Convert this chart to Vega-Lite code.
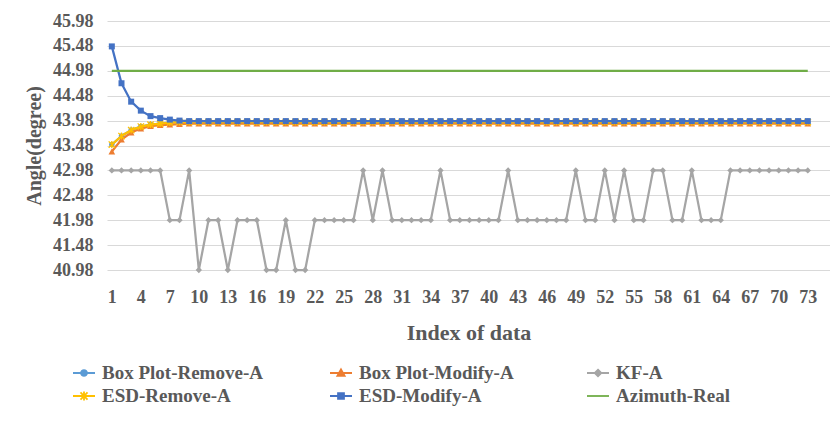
{
"$schema": "https://vega.github.io/schema/vega-lite/v6.json",
"width": 723, "height": 249, "autosize": "none",
"padding": {"left": 107, "top": 21, "right": 0, "bottom": 158},
"background": "white",
"config": {"font": "Liberation Serif", "view": {"stroke": null}},
"data": {"values": [
{"i":1,"s":"Box Plot-Remove-A","v":43.50},{"i":2,"s":"Box Plot-Remove-A","v":43.67},{"i":3,"s":"Box Plot-Remove-A","v":43.79},{"i":4,"s":"Box Plot-Remove-A","v":43.86},{"i":5,"s":"Box Plot-Remove-A","v":43.90},{"i":6,"s":"Box Plot-Remove-A","v":43.92},{"i":7,"s":"Box Plot-Remove-A","v":43.94},{"i":8,"s":"Box Plot-Remove-A","v":43.95},{"i":9,"s":"Box Plot-Remove-A","v":43.95},{"i":10,"s":"Box Plot-Remove-A","v":43.95},
{"i":11,"s":"Box Plot-Remove-A","v":43.95},{"i":12,"s":"Box Plot-Remove-A","v":43.95},{"i":13,"s":"Box Plot-Remove-A","v":43.95},{"i":14,"s":"Box Plot-Remove-A","v":43.95},{"i":15,"s":"Box Plot-Remove-A","v":43.95},{"i":16,"s":"Box Plot-Remove-A","v":43.95},{"i":17,"s":"Box Plot-Remove-A","v":43.95},{"i":18,"s":"Box Plot-Remove-A","v":43.95},{"i":19,"s":"Box Plot-Remove-A","v":43.95},{"i":20,"s":"Box Plot-Remove-A","v":43.95},
{"i":21,"s":"Box Plot-Remove-A","v":43.95},{"i":22,"s":"Box Plot-Remove-A","v":43.95},{"i":23,"s":"Box Plot-Remove-A","v":43.95},{"i":24,"s":"Box Plot-Remove-A","v":43.95},{"i":25,"s":"Box Plot-Remove-A","v":43.95},{"i":26,"s":"Box Plot-Remove-A","v":43.95},{"i":27,"s":"Box Plot-Remove-A","v":43.95},{"i":28,"s":"Box Plot-Remove-A","v":43.95},{"i":29,"s":"Box Plot-Remove-A","v":43.95},{"i":30,"s":"Box Plot-Remove-A","v":43.95},
{"i":31,"s":"Box Plot-Remove-A","v":43.95},{"i":32,"s":"Box Plot-Remove-A","v":43.95},{"i":33,"s":"Box Plot-Remove-A","v":43.95},{"i":34,"s":"Box Plot-Remove-A","v":43.95},{"i":35,"s":"Box Plot-Remove-A","v":43.95},{"i":36,"s":"Box Plot-Remove-A","v":43.95},{"i":37,"s":"Box Plot-Remove-A","v":43.95},{"i":38,"s":"Box Plot-Remove-A","v":43.95},{"i":39,"s":"Box Plot-Remove-A","v":43.95},{"i":40,"s":"Box Plot-Remove-A","v":43.95},
{"i":41,"s":"Box Plot-Remove-A","v":43.95},{"i":42,"s":"Box Plot-Remove-A","v":43.95},{"i":43,"s":"Box Plot-Remove-A","v":43.95},{"i":44,"s":"Box Plot-Remove-A","v":43.95},{"i":45,"s":"Box Plot-Remove-A","v":43.95},{"i":46,"s":"Box Plot-Remove-A","v":43.95},{"i":47,"s":"Box Plot-Remove-A","v":43.95},{"i":48,"s":"Box Plot-Remove-A","v":43.95},{"i":49,"s":"Box Plot-Remove-A","v":43.95},{"i":50,"s":"Box Plot-Remove-A","v":43.95},
{"i":51,"s":"Box Plot-Remove-A","v":43.95},{"i":52,"s":"Box Plot-Remove-A","v":43.95},{"i":53,"s":"Box Plot-Remove-A","v":43.95},{"i":54,"s":"Box Plot-Remove-A","v":43.95},{"i":55,"s":"Box Plot-Remove-A","v":43.95},{"i":56,"s":"Box Plot-Remove-A","v":43.95},{"i":57,"s":"Box Plot-Remove-A","v":43.95},{"i":58,"s":"Box Plot-Remove-A","v":43.95},{"i":59,"s":"Box Plot-Remove-A","v":43.95},{"i":60,"s":"Box Plot-Remove-A","v":43.95},
{"i":61,"s":"Box Plot-Remove-A","v":43.95},{"i":62,"s":"Box Plot-Remove-A","v":43.95},{"i":63,"s":"Box Plot-Remove-A","v":43.95},{"i":64,"s":"Box Plot-Remove-A","v":43.95},{"i":65,"s":"Box Plot-Remove-A","v":43.95},{"i":66,"s":"Box Plot-Remove-A","v":43.95},{"i":67,"s":"Box Plot-Remove-A","v":43.95},{"i":68,"s":"Box Plot-Remove-A","v":43.95},{"i":69,"s":"Box Plot-Remove-A","v":43.95},{"i":70,"s":"Box Plot-Remove-A","v":43.95},
{"i":71,"s":"Box Plot-Remove-A","v":43.95},{"i":72,"s":"Box Plot-Remove-A","v":43.95},{"i":73,"s":"Box Plot-Remove-A","v":43.95},
{"i":1,"s":"Box Plot-Modify-A","v":43.36},{"i":2,"s":"Box Plot-Modify-A","v":43.60},{"i":3,"s":"Box Plot-Modify-A","v":43.74},{"i":4,"s":"Box Plot-Modify-A","v":43.82},{"i":5,"s":"Box Plot-Modify-A","v":43.87},{"i":6,"s":"Box Plot-Modify-A","v":43.89},{"i":7,"s":"Box Plot-Modify-A","v":43.90},{"i":8,"s":"Box Plot-Modify-A","v":43.91},{"i":9,"s":"Box Plot-Modify-A","v":43.92},{"i":10,"s":"Box Plot-Modify-A","v":43.92},
{"i":11,"s":"Box Plot-Modify-A","v":43.92},{"i":12,"s":"Box Plot-Modify-A","v":43.92},{"i":13,"s":"Box Plot-Modify-A","v":43.92},{"i":14,"s":"Box Plot-Modify-A","v":43.92},{"i":15,"s":"Box Plot-Modify-A","v":43.92},{"i":16,"s":"Box Plot-Modify-A","v":43.92},{"i":17,"s":"Box Plot-Modify-A","v":43.92},{"i":18,"s":"Box Plot-Modify-A","v":43.92},{"i":19,"s":"Box Plot-Modify-A","v":43.92},{"i":20,"s":"Box Plot-Modify-A","v":43.92},
{"i":21,"s":"Box Plot-Modify-A","v":43.92},{"i":22,"s":"Box Plot-Modify-A","v":43.92},{"i":23,"s":"Box Plot-Modify-A","v":43.92},{"i":24,"s":"Box Plot-Modify-A","v":43.92},{"i":25,"s":"Box Plot-Modify-A","v":43.92},{"i":26,"s":"Box Plot-Modify-A","v":43.92},{"i":27,"s":"Box Plot-Modify-A","v":43.92},{"i":28,"s":"Box Plot-Modify-A","v":43.92},{"i":29,"s":"Box Plot-Modify-A","v":43.92},{"i":30,"s":"Box Plot-Modify-A","v":43.92},
{"i":31,"s":"Box Plot-Modify-A","v":43.92},{"i":32,"s":"Box Plot-Modify-A","v":43.92},{"i":33,"s":"Box Plot-Modify-A","v":43.92},{"i":34,"s":"Box Plot-Modify-A","v":43.92},{"i":35,"s":"Box Plot-Modify-A","v":43.92},{"i":36,"s":"Box Plot-Modify-A","v":43.92},{"i":37,"s":"Box Plot-Modify-A","v":43.92},{"i":38,"s":"Box Plot-Modify-A","v":43.92},{"i":39,"s":"Box Plot-Modify-A","v":43.92},{"i":40,"s":"Box Plot-Modify-A","v":43.92},
{"i":41,"s":"Box Plot-Modify-A","v":43.92},{"i":42,"s":"Box Plot-Modify-A","v":43.92},{"i":43,"s":"Box Plot-Modify-A","v":43.92},{"i":44,"s":"Box Plot-Modify-A","v":43.92},{"i":45,"s":"Box Plot-Modify-A","v":43.92},{"i":46,"s":"Box Plot-Modify-A","v":43.92},{"i":47,"s":"Box Plot-Modify-A","v":43.92},{"i":48,"s":"Box Plot-Modify-A","v":43.92},{"i":49,"s":"Box Plot-Modify-A","v":43.92},{"i":50,"s":"Box Plot-Modify-A","v":43.92},
{"i":51,"s":"Box Plot-Modify-A","v":43.92},{"i":52,"s":"Box Plot-Modify-A","v":43.92},{"i":53,"s":"Box Plot-Modify-A","v":43.92},{"i":54,"s":"Box Plot-Modify-A","v":43.92},{"i":55,"s":"Box Plot-Modify-A","v":43.92},{"i":56,"s":"Box Plot-Modify-A","v":43.92},{"i":57,"s":"Box Plot-Modify-A","v":43.92},{"i":58,"s":"Box Plot-Modify-A","v":43.92},{"i":59,"s":"Box Plot-Modify-A","v":43.92},{"i":60,"s":"Box Plot-Modify-A","v":43.92},
{"i":61,"s":"Box Plot-Modify-A","v":43.92},{"i":62,"s":"Box Plot-Modify-A","v":43.92},{"i":63,"s":"Box Plot-Modify-A","v":43.92},{"i":64,"s":"Box Plot-Modify-A","v":43.92},{"i":65,"s":"Box Plot-Modify-A","v":43.92},{"i":66,"s":"Box Plot-Modify-A","v":43.92},{"i":67,"s":"Box Plot-Modify-A","v":43.92},{"i":68,"s":"Box Plot-Modify-A","v":43.92},{"i":69,"s":"Box Plot-Modify-A","v":43.92},{"i":70,"s":"Box Plot-Modify-A","v":43.92},
{"i":71,"s":"Box Plot-Modify-A","v":43.92},{"i":72,"s":"Box Plot-Modify-A","v":43.92},{"i":73,"s":"Box Plot-Modify-A","v":43.92},
{"i":1,"s":"KF-A","v":42.98},{"i":2,"s":"KF-A","v":42.98},{"i":3,"s":"KF-A","v":42.98},{"i":4,"s":"KF-A","v":42.98},{"i":5,"s":"KF-A","v":42.98},{"i":6,"s":"KF-A","v":42.98},{"i":7,"s":"KF-A","v":41.98},{"i":8,"s":"KF-A","v":41.98},{"i":9,"s":"KF-A","v":42.98},{"i":10,"s":"KF-A","v":40.98},
{"i":11,"s":"KF-A","v":41.98},{"i":12,"s":"KF-A","v":41.98},{"i":13,"s":"KF-A","v":40.98},{"i":14,"s":"KF-A","v":41.98},{"i":15,"s":"KF-A","v":41.98},{"i":16,"s":"KF-A","v":41.98},{"i":17,"s":"KF-A","v":40.98},{"i":18,"s":"KF-A","v":40.98},{"i":19,"s":"KF-A","v":41.98},{"i":20,"s":"KF-A","v":40.98},
{"i":21,"s":"KF-A","v":40.98},{"i":22,"s":"KF-A","v":41.98},{"i":23,"s":"KF-A","v":41.98},{"i":24,"s":"KF-A","v":41.98},{"i":25,"s":"KF-A","v":41.98},{"i":26,"s":"KF-A","v":41.98},{"i":27,"s":"KF-A","v":42.98},{"i":28,"s":"KF-A","v":41.98},{"i":29,"s":"KF-A","v":42.98},{"i":30,"s":"KF-A","v":41.98},
{"i":31,"s":"KF-A","v":41.98},{"i":32,"s":"KF-A","v":41.98},{"i":33,"s":"KF-A","v":41.98},{"i":34,"s":"KF-A","v":41.98},{"i":35,"s":"KF-A","v":42.98},{"i":36,"s":"KF-A","v":41.98},{"i":37,"s":"KF-A","v":41.98},{"i":38,"s":"KF-A","v":41.98},{"i":39,"s":"KF-A","v":41.98},{"i":40,"s":"KF-A","v":41.98},
{"i":41,"s":"KF-A","v":41.98},{"i":42,"s":"KF-A","v":42.98},{"i":43,"s":"KF-A","v":41.98},{"i":44,"s":"KF-A","v":41.98},{"i":45,"s":"KF-A","v":41.98},{"i":46,"s":"KF-A","v":41.98},{"i":47,"s":"KF-A","v":41.98},{"i":48,"s":"KF-A","v":41.98},{"i":49,"s":"KF-A","v":42.98},{"i":50,"s":"KF-A","v":41.98},
{"i":51,"s":"KF-A","v":41.98},{"i":52,"s":"KF-A","v":42.98},{"i":53,"s":"KF-A","v":41.98},{"i":54,"s":"KF-A","v":42.98},{"i":55,"s":"KF-A","v":41.98},{"i":56,"s":"KF-A","v":41.98},{"i":57,"s":"KF-A","v":42.98},{"i":58,"s":"KF-A","v":42.98},{"i":59,"s":"KF-A","v":41.98},{"i":60,"s":"KF-A","v":41.98},
{"i":61,"s":"KF-A","v":42.98},{"i":62,"s":"KF-A","v":41.98},{"i":63,"s":"KF-A","v":41.98},{"i":64,"s":"KF-A","v":41.98},{"i":65,"s":"KF-A","v":42.98},{"i":66,"s":"KF-A","v":42.98},{"i":67,"s":"KF-A","v":42.98},{"i":68,"s":"KF-A","v":42.98},{"i":69,"s":"KF-A","v":42.98},{"i":70,"s":"KF-A","v":42.98},
{"i":71,"s":"KF-A","v":42.98},{"i":72,"s":"KF-A","v":42.98},{"i":73,"s":"KF-A","v":42.98},
{"i":1,"s":"ESD-Remove-A","v":43.50},{"i":2,"s":"ESD-Remove-A","v":43.67},{"i":3,"s":"ESD-Remove-A","v":43.79},{"i":4,"s":"ESD-Remove-A","v":43.86},{"i":5,"s":"ESD-Remove-A","v":43.90},{"i":6,"s":"ESD-Remove-A","v":43.92},{"i":7,"s":"ESD-Remove-A","v":43.94},{"i":8,"s":"ESD-Remove-A","v":43.95},{"i":9,"s":"ESD-Remove-A","v":43.95},{"i":10,"s":"ESD-Remove-A","v":43.95},
{"i":11,"s":"ESD-Remove-A","v":43.95},{"i":12,"s":"ESD-Remove-A","v":43.95},{"i":13,"s":"ESD-Remove-A","v":43.95},{"i":14,"s":"ESD-Remove-A","v":43.95},{"i":15,"s":"ESD-Remove-A","v":43.95},{"i":16,"s":"ESD-Remove-A","v":43.95},{"i":17,"s":"ESD-Remove-A","v":43.95},{"i":18,"s":"ESD-Remove-A","v":43.95},{"i":19,"s":"ESD-Remove-A","v":43.95},{"i":20,"s":"ESD-Remove-A","v":43.95},
{"i":21,"s":"ESD-Remove-A","v":43.95},{"i":22,"s":"ESD-Remove-A","v":43.95},{"i":23,"s":"ESD-Remove-A","v":43.95},{"i":24,"s":"ESD-Remove-A","v":43.95},{"i":25,"s":"ESD-Remove-A","v":43.95},{"i":26,"s":"ESD-Remove-A","v":43.95},{"i":27,"s":"ESD-Remove-A","v":43.95},{"i":28,"s":"ESD-Remove-A","v":43.95},{"i":29,"s":"ESD-Remove-A","v":43.95},{"i":30,"s":"ESD-Remove-A","v":43.95},
{"i":31,"s":"ESD-Remove-A","v":43.95},{"i":32,"s":"ESD-Remove-A","v":43.95},{"i":33,"s":"ESD-Remove-A","v":43.95},{"i":34,"s":"ESD-Remove-A","v":43.95},{"i":35,"s":"ESD-Remove-A","v":43.95},{"i":36,"s":"ESD-Remove-A","v":43.95},{"i":37,"s":"ESD-Remove-A","v":43.95},{"i":38,"s":"ESD-Remove-A","v":43.95},{"i":39,"s":"ESD-Remove-A","v":43.95},{"i":40,"s":"ESD-Remove-A","v":43.95},
{"i":41,"s":"ESD-Remove-A","v":43.95},{"i":42,"s":"ESD-Remove-A","v":43.95},{"i":43,"s":"ESD-Remove-A","v":43.95},{"i":44,"s":"ESD-Remove-A","v":43.95},{"i":45,"s":"ESD-Remove-A","v":43.95},{"i":46,"s":"ESD-Remove-A","v":43.95},{"i":47,"s":"ESD-Remove-A","v":43.95},{"i":48,"s":"ESD-Remove-A","v":43.95},{"i":49,"s":"ESD-Remove-A","v":43.95},{"i":50,"s":"ESD-Remove-A","v":43.95},
{"i":51,"s":"ESD-Remove-A","v":43.95},{"i":52,"s":"ESD-Remove-A","v":43.95},{"i":53,"s":"ESD-Remove-A","v":43.95},{"i":54,"s":"ESD-Remove-A","v":43.95},{"i":55,"s":"ESD-Remove-A","v":43.95},{"i":56,"s":"ESD-Remove-A","v":43.95},{"i":57,"s":"ESD-Remove-A","v":43.95},{"i":58,"s":"ESD-Remove-A","v":43.95},{"i":59,"s":"ESD-Remove-A","v":43.95},{"i":60,"s":"ESD-Remove-A","v":43.95},
{"i":61,"s":"ESD-Remove-A","v":43.95},{"i":62,"s":"ESD-Remove-A","v":43.95},{"i":63,"s":"ESD-Remove-A","v":43.95},{"i":64,"s":"ESD-Remove-A","v":43.95},{"i":65,"s":"ESD-Remove-A","v":43.95},{"i":66,"s":"ESD-Remove-A","v":43.95},{"i":67,"s":"ESD-Remove-A","v":43.95},{"i":68,"s":"ESD-Remove-A","v":43.95},{"i":69,"s":"ESD-Remove-A","v":43.95},{"i":70,"s":"ESD-Remove-A","v":43.95},
{"i":71,"s":"ESD-Remove-A","v":43.95},{"i":72,"s":"ESD-Remove-A","v":43.95},{"i":73,"s":"ESD-Remove-A","v":43.95},
{"i":1,"s":"ESD-Modify-A","v":45.47},{"i":2,"s":"ESD-Modify-A","v":44.73},{"i":3,"s":"ESD-Modify-A","v":44.36},{"i":4,"s":"ESD-Modify-A","v":44.18},{"i":5,"s":"ESD-Modify-A","v":44.07},{"i":6,"s":"ESD-Modify-A","v":44.03},{"i":7,"s":"ESD-Modify-A","v":44.00},{"i":8,"s":"ESD-Modify-A","v":43.98},{"i":9,"s":"ESD-Modify-A","v":43.97},{"i":10,"s":"ESD-Modify-A","v":43.97},
{"i":11,"s":"ESD-Modify-A","v":43.97},{"i":12,"s":"ESD-Modify-A","v":43.97},{"i":13,"s":"ESD-Modify-A","v":43.97},{"i":14,"s":"ESD-Modify-A","v":43.97},{"i":15,"s":"ESD-Modify-A","v":43.97},{"i":16,"s":"ESD-Modify-A","v":43.97},{"i":17,"s":"ESD-Modify-A","v":43.97},{"i":18,"s":"ESD-Modify-A","v":43.97},{"i":19,"s":"ESD-Modify-A","v":43.97},{"i":20,"s":"ESD-Modify-A","v":43.97},
{"i":21,"s":"ESD-Modify-A","v":43.97},{"i":22,"s":"ESD-Modify-A","v":43.97},{"i":23,"s":"ESD-Modify-A","v":43.97},{"i":24,"s":"ESD-Modify-A","v":43.97},{"i":25,"s":"ESD-Modify-A","v":43.97},{"i":26,"s":"ESD-Modify-A","v":43.97},{"i":27,"s":"ESD-Modify-A","v":43.97},{"i":28,"s":"ESD-Modify-A","v":43.97},{"i":29,"s":"ESD-Modify-A","v":43.97},{"i":30,"s":"ESD-Modify-A","v":43.97},
{"i":31,"s":"ESD-Modify-A","v":43.97},{"i":32,"s":"ESD-Modify-A","v":43.97},{"i":33,"s":"ESD-Modify-A","v":43.97},{"i":34,"s":"ESD-Modify-A","v":43.97},{"i":35,"s":"ESD-Modify-A","v":43.97},{"i":36,"s":"ESD-Modify-A","v":43.97},{"i":37,"s":"ESD-Modify-A","v":43.97},{"i":38,"s":"ESD-Modify-A","v":43.97},{"i":39,"s":"ESD-Modify-A","v":43.97},{"i":40,"s":"ESD-Modify-A","v":43.97},
{"i":41,"s":"ESD-Modify-A","v":43.97},{"i":42,"s":"ESD-Modify-A","v":43.97},{"i":43,"s":"ESD-Modify-A","v":43.97},{"i":44,"s":"ESD-Modify-A","v":43.97},{"i":45,"s":"ESD-Modify-A","v":43.97},{"i":46,"s":"ESD-Modify-A","v":43.97},{"i":47,"s":"ESD-Modify-A","v":43.97},{"i":48,"s":"ESD-Modify-A","v":43.97},{"i":49,"s":"ESD-Modify-A","v":43.97},{"i":50,"s":"ESD-Modify-A","v":43.97},
{"i":51,"s":"ESD-Modify-A","v":43.97},{"i":52,"s":"ESD-Modify-A","v":43.97},{"i":53,"s":"ESD-Modify-A","v":43.97},{"i":54,"s":"ESD-Modify-A","v":43.97},{"i":55,"s":"ESD-Modify-A","v":43.97},{"i":56,"s":"ESD-Modify-A","v":43.97},{"i":57,"s":"ESD-Modify-A","v":43.97},{"i":58,"s":"ESD-Modify-A","v":43.97},{"i":59,"s":"ESD-Modify-A","v":43.97},{"i":60,"s":"ESD-Modify-A","v":43.97},
{"i":61,"s":"ESD-Modify-A","v":43.97},{"i":62,"s":"ESD-Modify-A","v":43.97},{"i":63,"s":"ESD-Modify-A","v":43.97},{"i":64,"s":"ESD-Modify-A","v":43.97},{"i":65,"s":"ESD-Modify-A","v":43.97},{"i":66,"s":"ESD-Modify-A","v":43.97},{"i":67,"s":"ESD-Modify-A","v":43.97},{"i":68,"s":"ESD-Modify-A","v":43.97},{"i":69,"s":"ESD-Modify-A","v":43.97},{"i":70,"s":"ESD-Modify-A","v":43.97},
{"i":71,"s":"ESD-Modify-A","v":43.97},{"i":72,"s":"ESD-Modify-A","v":43.97},{"i":73,"s":"ESD-Modify-A","v":43.97},
{"i":1,"s":"Azimuth-Real","v":44.98},{"i":2,"s":"Azimuth-Real","v":44.98},{"i":3,"s":"Azimuth-Real","v":44.98},{"i":4,"s":"Azimuth-Real","v":44.98},{"i":5,"s":"Azimuth-Real","v":44.98},{"i":6,"s":"Azimuth-Real","v":44.98},{"i":7,"s":"Azimuth-Real","v":44.98},{"i":8,"s":"Azimuth-Real","v":44.98},{"i":9,"s":"Azimuth-Real","v":44.98},{"i":10,"s":"Azimuth-Real","v":44.98},
{"i":11,"s":"Azimuth-Real","v":44.98},{"i":12,"s":"Azimuth-Real","v":44.98},{"i":13,"s":"Azimuth-Real","v":44.98},{"i":14,"s":"Azimuth-Real","v":44.98},{"i":15,"s":"Azimuth-Real","v":44.98},{"i":16,"s":"Azimuth-Real","v":44.98},{"i":17,"s":"Azimuth-Real","v":44.98},{"i":18,"s":"Azimuth-Real","v":44.98},{"i":19,"s":"Azimuth-Real","v":44.98},{"i":20,"s":"Azimuth-Real","v":44.98},
{"i":21,"s":"Azimuth-Real","v":44.98},{"i":22,"s":"Azimuth-Real","v":44.98},{"i":23,"s":"Azimuth-Real","v":44.98},{"i":24,"s":"Azimuth-Real","v":44.98},{"i":25,"s":"Azimuth-Real","v":44.98},{"i":26,"s":"Azimuth-Real","v":44.98},{"i":27,"s":"Azimuth-Real","v":44.98},{"i":28,"s":"Azimuth-Real","v":44.98},{"i":29,"s":"Azimuth-Real","v":44.98},{"i":30,"s":"Azimuth-Real","v":44.98},
{"i":31,"s":"Azimuth-Real","v":44.98},{"i":32,"s":"Azimuth-Real","v":44.98},{"i":33,"s":"Azimuth-Real","v":44.98},{"i":34,"s":"Azimuth-Real","v":44.98},{"i":35,"s":"Azimuth-Real","v":44.98},{"i":36,"s":"Azimuth-Real","v":44.98},{"i":37,"s":"Azimuth-Real","v":44.98},{"i":38,"s":"Azimuth-Real","v":44.98},{"i":39,"s":"Azimuth-Real","v":44.98},{"i":40,"s":"Azimuth-Real","v":44.98},
{"i":41,"s":"Azimuth-Real","v":44.98},{"i":42,"s":"Azimuth-Real","v":44.98},{"i":43,"s":"Azimuth-Real","v":44.98},{"i":44,"s":"Azimuth-Real","v":44.98},{"i":45,"s":"Azimuth-Real","v":44.98},{"i":46,"s":"Azimuth-Real","v":44.98},{"i":47,"s":"Azimuth-Real","v":44.98},{"i":48,"s":"Azimuth-Real","v":44.98},{"i":49,"s":"Azimuth-Real","v":44.98},{"i":50,"s":"Azimuth-Real","v":44.98},
{"i":51,"s":"Azimuth-Real","v":44.98},{"i":52,"s":"Azimuth-Real","v":44.98},{"i":53,"s":"Azimuth-Real","v":44.98},{"i":54,"s":"Azimuth-Real","v":44.98},{"i":55,"s":"Azimuth-Real","v":44.98},{"i":56,"s":"Azimuth-Real","v":44.98},{"i":57,"s":"Azimuth-Real","v":44.98},{"i":58,"s":"Azimuth-Real","v":44.98},{"i":59,"s":"Azimuth-Real","v":44.98},{"i":60,"s":"Azimuth-Real","v":44.98},
{"i":61,"s":"Azimuth-Real","v":44.98},{"i":62,"s":"Azimuth-Real","v":44.98},{"i":63,"s":"Azimuth-Real","v":44.98},{"i":64,"s":"Azimuth-Real","v":44.98},{"i":65,"s":"Azimuth-Real","v":44.98},{"i":66,"s":"Azimuth-Real","v":44.98},{"i":67,"s":"Azimuth-Real","v":44.98},{"i":68,"s":"Azimuth-Real","v":44.98},{"i":69,"s":"Azimuth-Real","v":44.98},{"i":70,"s":"Azimuth-Real","v":44.98},
{"i":71,"s":"Azimuth-Real","v":44.98},{"i":72,"s":"Azimuth-Real","v":44.98},{"i":73,"s":"Azimuth-Real","v":44.98}
]},
"encoding": {
  "x": {"field": "i", "type": "quantitative", "scale": {"domain": [0.5, 75.3], "nice": false, "zero": false},
    "axis": {"values": [1,4,7,10,13,16,19,22,25,28,31,34,37,40,43,46,49,52,55,58,61,64,67,70,73], "grid": false, "domain": false, "ticks": false,
      "labelFont": "Liberation Serif", "labelFontSize": 18, "labelFontWeight": "bold", "labelColor": "#595959", "labelPadding": 18,
      "title": "Index of data", "titleFont": "Liberation Serif", "titleFontSize": 22, "titleFontWeight": "bold", "titleColor": "#595959", "titlePadding": 16}},
  "y": {"field": "v", "type": "quantitative", "scale": {"domain": [40.98, 45.98], "nice": false, "zero": false},
    "axis": {"values": [40.98,41.48,41.98,42.48,42.98,43.48,43.98,44.48,44.98,45.48,45.98], "format": ".2f", "grid": true, "gridColor": "#d9d9d9", "gridWidth": 1, "domain": false, "ticks": false,
      "labelFont": "Liberation Serif", "labelFontSize": 18, "labelFontWeight": "bold", "labelColor": "#595959", "labelPadding": 14,
      "title": "Angle(degree)", "titleFont": "Liberation Serif", "titleFontSize": 20, "titleFontWeight": "bold", "titleColor": "#595959", "titleX": -63}}
},
"layer": [
  {"transform": [{"filter": "datum.s === 'Box Plot-Remove-A'"}], "mark": {"type": "line", "color": "#5b9bd5", "strokeWidth": 2.25}},
  {"transform": [{"filter": "datum.s === 'Box Plot-Remove-A'"}], "mark": {"type": "point", "shape": "circle", "filled": true, "opacity": 1, "color": "#5b9bd5", "size": 30}},
  {"transform": [{"filter": "datum.s === 'Box Plot-Modify-A'"}], "mark": {"type": "line", "color": "#ed7d31", "strokeWidth": 2.25}},
  {"transform": [{"filter": "datum.s === 'Box Plot-Modify-A'"}], "mark": {"type": "point", "shape": "triangle-up", "filled": true, "opacity": 1, "color": "#ed7d31", "size": 45}},
  {"transform": [{"filter": "datum.s === 'KF-A'"}], "mark": {"type": "line", "color": "#a5a5a5", "strokeWidth": 2.25}},
  {"transform": [{"filter": "datum.s === 'KF-A'"}], "mark": {"type": "point", "shape": "diamond", "filled": true, "opacity": 1, "color": "#a5a5a5", "size": 40}},
  {"transform": [{"filter": "datum.s === 'ESD-Remove-A'"}], "mark": {"type": "line", "color": "#ffc000", "strokeWidth": 2.25}},
  {"transform": [{"filter": "datum.s === 'ESD-Remove-A'"}], "mark": {"type": "point", "shape": "M-1,-1L1,1M-1,1L1,-1M0,-1.1V1.1", "filled": false, "opacity": 1, "color": "#ffc000", "strokeWidth": 1.3, "size": 40}},
  {"transform": [{"filter": "datum.s === 'ESD-Modify-A'"}], "mark": {"type": "line", "color": "#4472c4", "strokeWidth": 2.25}},
  {"transform": [{"filter": "datum.s === 'ESD-Modify-A'"}], "mark": {"type": "point", "shape": "square", "filled": true, "opacity": 1, "color": "#4472c4", "size": 36}},
  {"transform": [{"filter": "datum.s === 'Azimuth-Real'"}], "mark": {"type": "line", "color": "#70ad47", "strokeWidth": 2.25}},
  {"mark": {"type": "point", "filled": true, "opacity": 0},
   "encoding": {
     "fill": {"field": "s", "type": "nominal",
       "scale": {"domain": ["Box Plot-Remove-A","Box Plot-Modify-A","KF-A","ESD-Remove-A","ESD-Modify-A","Azimuth-Real"], "range": ["#5b9bd5","#ed7d31","#a5a5a5","#ffc000","#4472c4","#70ad47"]},
       "legend": {"title": null, "orient": "none", "legendX": -35, "legendY": 340, "direction": "horizontal", "columns": 3, "columnPadding": 63, "rowPadding": 1, "gridAlign": "all", "symbolSize": 484, "symbolStrokeWidth": 1.8, "symbolOpacity": 1, "labelFont": "Liberation Serif", "labelFontSize": 19, "labelFontWeight": "bold", "labelColor": "#595959", "labelOffset": 6, "labelLimit": 300}},
     "stroke": {"field": "s", "type": "nominal",
       "scale": {"domain": ["Box Plot-Remove-A","Box Plot-Modify-A","KF-A","ESD-Remove-A","ESD-Modify-A","Azimuth-Real"], "range": ["#5b9bd5","#ed7d31","#a5a5a5","#ffc000","#4472c4","#70ad47"]},
       "legend": {"title": null, "orient": "none", "legendX": -35, "legendY": 340, "direction": "horizontal", "columns": 3, "columnPadding": 63, "rowPadding": 1, "gridAlign": "all", "symbolSize": 484, "symbolStrokeWidth": 1.8, "symbolOpacity": 1, "labelFont": "Liberation Serif", "labelFontSize": 19, "labelFontWeight": "bold", "labelColor": "#595959", "labelOffset": 6, "labelLimit": 300}},
     "shape": {"field": "s", "type": "nominal",
       "scale": {"domain": ["Box Plot-Remove-A","Box Plot-Modify-A","KF-A","ESD-Remove-A","ESD-Modify-A","Azimuth-Real"],
         "range": ["M-1,0H1M0.27,0A0.27,0.27,0,1,1,-0.27,0A0.27,0.27,0,1,1,0.27,0Z", "M-1,0H1M0,-0.33L0.33,0.27L-0.33,0.27Z", "M-1,0H1M0,-0.3L0.3,0L0,0.3L-0.3,0Z", "M-1,0H1M-0.32,-0.32L0.32,0.32M-0.32,0.32L0.32,-0.32M0,-0.4V0.4", "M-1,0H1M-0.27,-0.27H0.27V0.27H-0.27Z", "M-1,0H1"]},
       "legend": {"title": null, "orient": "none", "legendX": -35, "legendY": 340, "direction": "horizontal", "columns": 3, "columnPadding": 63, "rowPadding": 1, "gridAlign": "all", "symbolSize": 484, "symbolStrokeWidth": 1.8, "symbolOpacity": 1, "labelFont": "Liberation Serif", "labelFontSize": 19, "labelFontWeight": "bold", "labelColor": "#595959", "labelOffset": 6, "labelLimit": 300}}
   }}
]
}
